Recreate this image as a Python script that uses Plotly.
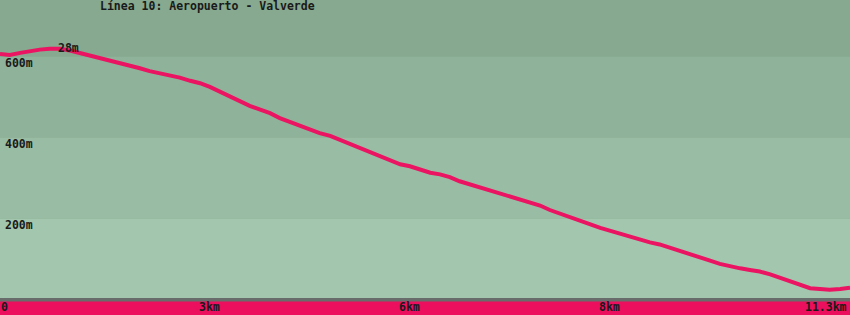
import plotly.graph_objects as go

# ---- data ----
title_text = "Línea 10: Aeropuerto - Valverde"
distance_km = [
    0.00, 0.13, 0.27, 0.40, 0.53, 0.66, 0.80, 0.93, 1.06, 1.20,
    1.33, 1.46, 1.60, 1.73, 1.86, 1.99, 2.13, 2.26, 2.39, 2.53,
    2.66, 2.79, 2.92, 3.06, 3.19, 3.32, 3.46, 3.59, 3.72, 3.86,
    3.99, 4.12, 4.25, 4.39, 4.52, 4.65, 4.79, 4.92, 5.05, 5.18,
    5.32, 5.45, 5.58, 5.72, 5.85, 5.98, 6.11, 6.25, 6.38, 6.51,
    6.65, 6.78, 6.91, 7.04, 7.18, 7.31, 7.44, 7.58, 7.71, 7.84,
    7.98, 8.11, 8.24, 8.37, 8.51, 8.64, 8.77, 8.91, 9.04, 9.17,
    9.31, 9.44, 9.57, 9.70, 9.84, 9.97, 10.10, 10.24, 10.37, 10.50,
    10.63, 10.77, 10.90, 11.03, 11.17, 11.30,
]
elevation_m = [
    606, 604, 609, 614, 617, 619, 619, 615, 609, 604,
    597, 591, 584, 578, 571, 564, 559, 554, 548, 540,
    534, 525, 513, 501, 488, 478, 469, 460, 448, 438,
    429, 418, 411, 404, 394, 384, 373, 365, 354, 343,
    334, 329, 321, 313, 309, 302, 292, 284, 277, 269,
    261, 254, 246, 241, 232, 221, 213, 204, 196, 186,
    177, 170, 162, 155, 147, 141, 136, 128, 120, 114,
    106, 96, 88, 82, 77, 73, 69, 62, 54, 46,
    36, 28, 26, 24, 26, 29,
]
band_edges_m = [0, 200, 400, 600, 741]
y_tick_values = [200, 400, 600]
y_tick_labels = ["200m", "400m", "600m"]
x_tick_labels = ["0", "3km", "6km", "8km", "11.3km"]
x_tick_pos_km = [0.0, 2.79, 5.44, 8.10, 11.27]
peak_label = "28m"
peak_label_km = 0.76
peak_label_m = 631

# ---- style ----
W, H = 850, 315
PLOT_BOTTOM_PX = 300
FONT = dict(family="DejaVu Sans Mono", size=11.5, color="#1a1a1a")
band_colors = ["#a3c7ae", "#99bda4", "#8fb39a", "#86a98f"]
line_color = "#ea1462"
bar_color = "#ec0f5e"
axis_gray = "#686c6a"

fig = go.Figure()
fig.add_trace(go.Scatter(
    x=distance_km, y=elevation_m, mode="lines",
    line=dict(color=line_color, width=4), hoverinfo="skip",
))

shapes = []
for i in range(4):
    shapes.append(dict(type="rect", xref="paper", yref="y", x0=0, x1=1,
                       y0=band_edges_m[i], y1=band_edges_m[i + 1],
                       fillcolor=band_colors[i], line_width=0, layer="below"))
shapes.append(dict(type="rect", xref="paper", yref="paper", x0=0, x1=1,
                   y0=(H - 301.5) / H, y1=(H - 298) / H,
                   fillcolor=axis_gray, line_width=0, layer="above"))

annotations = [
    dict(text="<b>" + title_text + "</b>", xref="paper", yref="paper",
         x=99 / W, y=1.0, xanchor="left", yanchor="top", showarrow=False,
         font=FONT, borderpad=0, yshift=2),
    dict(text="<b>" + peak_label + "</b>", xref="x", yref="y",
         x=peak_label_km, y=peak_label_m, xanchor="left", yanchor="top",
         showarrow=False, font=FONT, borderpad=0, yshift=4),
]
for v, t in zip(y_tick_values, y_tick_labels):
    annotations.append(dict(text="<b>" + t + "</b>", xref="paper", yref="y",
                            x=4 / W, y=v, xanchor="left", yanchor="top",
                            showarrow=False, font=FONT, borderpad=0, yshift=2))
anchors = ["left", "center", "center", "center", "right"]
for pos, t, a in zip(x_tick_pos_km, x_tick_labels, anchors):
    annotations.append(dict(text="<b>" + t + "</b>", xref="x", yref="paper",
                            x=pos, y=(H - 299) / H, xanchor=a, yanchor="top",
                            showarrow=False, font=FONT, borderpad=0))

fig.update_layout(
    width=W, height=H, margin=dict(l=0, r=0, t=0, b=0),
    paper_bgcolor=bar_color, plot_bgcolor=band_colors[-1],
    showlegend=False, shapes=shapes, annotations=annotations,
    xaxis=dict(range=[0, 11.3], visible=False, domain=[0, 1]),
    yaxis=dict(range=[-1.2, PLOT_BOTTOM_PX * 200 / 81 - 1.2], visible=False,
               domain=[(H - PLOT_BOTTOM_PX) / H, 1]),
    font=FONT,
)
fig.write_html("out.html")
